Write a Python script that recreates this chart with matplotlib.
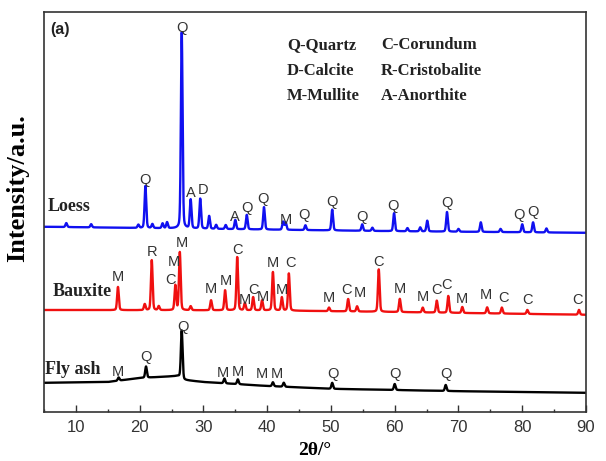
"""
XRD patterns of loess, bauxite and fly ash, stacked with phase labels.
"""
import matplotlib

matplotlib.use("Agg")
import matplotlib.pyplot as plt
import numpy as np

# peak positions (2theta) and heights above baseline
LOESS_POS = [8.5, 12.4, 19.8, 20.9, 22.0, 23.6, 24.3, 26.6, 28.0, 29.5, 30.9, 32.0, 33.5,
             35.0, 36.8, 39.5, 42.5, 42.9, 46.0, 50.2, 54.9, 56.5, 59.9, 62.0, 64.0, 65.1,
             68.2, 70.0, 73.5, 76.6, 80.0, 81.7, 83.8]
LOESS_H = [1.0, 0.8, 0.8, 10.5, 1.0, 1.2, 1.5, 49.0, 7.2, 7.5, 3.2, 1.0, 1.0,
           2.3, 3.6, 5.6, 2.0, 1.8, 1.2, 5.2, 1.6, 0.8, 4.5, 0.8, 1.0, 2.7,
           4.9, 0.7, 2.4, 0.8, 2.0, 2.5, 1.0]
LOESS_BASE_X = [5, 30, 60, 90]
LOESS_BASE_Y = [46.3, 45.8, 45.2, 44.8]

BAUXITE_POS = [16.6, 20.8, 21.9, 23.0, 25.6, 26.3, 28.0, 31.2, 33.4, 35.3, 36.5, 37.8,
               39.2, 40.9, 42.3, 43.4, 49.7, 52.7, 54.1, 57.5, 60.8, 64.4, 66.6, 68.4,
               70.6, 74.5, 76.8, 80.8, 88.9]
BAUXITE_H = [5.8, 1.5, 12.5, 1.0, 6.2, 14.5, 1.0, 2.5, 5.0, 13.3, 1.8, 3.3,
             2.5, 9.6, 3.3, 9.3, 0.9, 3.1, 1.3, 10.6, 3.3, 1.2, 3.0, 4.2,
             1.5, 1.5, 1.5, 1.0, 1.2]
BAUXITE_BASE_X = [5, 40, 60, 90]
BAUXITE_BASE_Y = [25.5, 25.4, 25.0, 24.3]

FLYASH_POS = [16.7, 21.0, 26.6, 33.3, 35.4, 40.9, 42.6, 50.2, 60.0, 68.0]
FLYASH_H = [0.8, 2.8, 12.0, 1.2, 1.2, 1.0, 1.0, 1.5, 1.5, 1.5]
FLYASH_BASE_X = [5, 15, 20, 26, 27, 30, 40, 50, 70, 90]
FLYASH_BASE_Y = [7.3, 7.5, 8.5, 9.0, 8.0, 7.5, 6.5, 5.8, 5.2, 4.8]

# phase letters: (letter, 2theta, height)
LOESS_LABELS = [("Q", 20.9, 58.0), ("Q", 26.6, 96.0), ("A", 28.05, 54.75), ("D", 29.9, 55.5),
                ("A", 35.0, 48.75), ("Q", 36.8, 51.0), ("Q", 39.4, 53.25), ("M", 43.0, 48.0),
                ("Q", 45.8, 49.25), ("Q", 50.2, 52.5), ("Q", 54.9, 48.75), ("Q", 59.7, 51.5),
                ("Q", 68.2, 52.25), ("Q", 79.5, 49.25), ("Q", 81.7, 50.0)]
BAUXITE_LABELS = [("M", 16.6, 33.75), ("R", 21.9, 40.0), ("C", 24.8, 33.0), ("M", 25.3, 37.5),
                  ("M", 26.6, 42.25), ("M", 31.2, 30.75), ("M", 33.5, 32.75), ("C", 35.4, 40.5),
                  ("M", 36.5, 28.0), ("C", 37.8, 30.5), ("M", 39.3, 28.75), ("M", 40.9, 37.25),
                  ("M", 42.3, 30.5), ("C", 43.6, 37.25), ("M", 49.7, 28.5), ("C", 52.4, 30.5),
                  ("M", 54.5, 29.75), ("C", 57.5, 37.5), ("M", 60.8, 30.75), ("M", 64.4, 28.75),
                  ("C", 66.6, 30.5), ("C", 68.2, 31.75), ("M", 70.6, 28.25), ("M", 74.3, 29.25),
                  ("C", 77.0, 28.5), ("C", 80.9, 28.0), ("C", 88.6, 28.0)]
FLYASH_LABELS = [("M", 16.6, 10.0), ("Q", 21.0, 13.75), ("Q", 26.8, 21.25), ("M", 33.1, 9.75),
                 ("M", 35.4, 10.0), ("M", 39.2, 9.5), ("M", 41.5, 9.5), ("Q", 50.3, 9.5),
                 ("Q", 60.05, 9.5), ("Q", 68.05, 9.5)]

LEGEND_ROWS = [("Q-Quartz", "C-Corundum"), ("D-Calcite", "R-Cristobalite"),
               ("M-Mullite", "A-Anorthite")]

XTICKS = [10, 20, 30, 40, 50, 60, 70, 80, 90]

SERIF = "Liberation Serif"
SANS = "Liberation Sans"
INK = "#222222"


def pattern(tt, pos, heights, base_x, base_y, width=0.13):
    y = np.interp(tt, base_x, base_y)
    for c, h in zip(pos, heights):
        d = (tt - c) / width
        y = y + h * (0.75 * np.exp(-0.5 * d ** 2) + 0.25 / (1 + (d / 1.2) ** 2))
    return y


def main() -> None:
    tt = np.arange(5, 90.001, 0.02)
    fig = plt.figure(figsize=(6.06, 4.61), dpi=100)
    ax = fig.add_axes([0.0726, 0.1063, 0.8944, 0.8677])

    series = [
        (FLYASH_POS, FLYASH_H, FLYASH_BASE_X, FLYASH_BASE_Y, "black", FLYASH_LABELS),
        (BAUXITE_POS, BAUXITE_H, BAUXITE_BASE_X, BAUXITE_BASE_Y, "#f01010", BAUXITE_LABELS),
        (LOESS_POS, LOESS_H, LOESS_BASE_X, LOESS_BASE_Y, "#1010f0", LOESS_LABELS),
    ]
    for pos, hs, bx, by, color, labels in series:
        ax.plot(tt, pattern(tt, pos, hs, bx, by), color=color, lw=1.7)
        for letter, x, y in labels:
            ax.text(x, y, letter, ha="center", va="center", fontsize=10.5,
                    family=SANS, color="#333333")

    names = [("Loess", 5.6, 51.25), ("Bauxite", 6.3, 30.0), ("Fly ash", 5.15, 10.5)]
    for name, x, y in names:
        ax.text(x, y, name, ha="left", va="center", fontsize=13,
                family=SERIF, fontweight="bold", color=INK)

    for i, (left, right) in enumerate(LEGEND_ROWS):
        yy = 0.9175 - i * 0.064
        ax.text(0.448, yy, left, transform=ax.transAxes, ha="left", va="center",
                fontsize=12, family=SERIF, fontweight="bold", color=INK)
        ax.text(0.622, yy, right, transform=ax.transAxes, ha="left", va="center",
                fontsize=12, family=SERIF, fontweight="bold", color=INK)

    ax.text(0.011, 0.955, "(a)", transform=ax.transAxes, ha="left", va="center",
            fontsize=11.5, family=SANS, fontweight="bold", color=INK)

    ax.set_xlim(5, 90)
    ax.set_ylim(0, 100)
    ax.set_xticks(XTICKS)
    ax.set_xticks(np.arange(5, 90, 5), minor=True)
    ax.set_yticks([])
    ax.tick_params(axis="x", which="major", direction="in", length=5, width=1,
                   labelsize=12, colors="#333333", pad=6)
    ax.tick_params(axis="x", which="minor", direction="in", length=2.5, width=1,
                   colors="#333333")
    for lab in ax.get_xticklabels():
        lab.set_family(SANS)
    for sp in ax.spines.values():
        sp.set_color("#333333")
        sp.set_linewidth(1.2)

    ax.set_xlabel("2θ/°", fontsize=14, family=SERIF, fontweight="bold", labelpad=5)
    ax.set_ylabel("Intensity/a.u.", fontsize=19, family=SERIF, fontweight="bold")
    ax.yaxis.set_label_coords(-0.028, 0.56)

    fig.savefig("out.png", dpi=100)
    plt.close(fig)


if __name__ == "__main__":
    main()
